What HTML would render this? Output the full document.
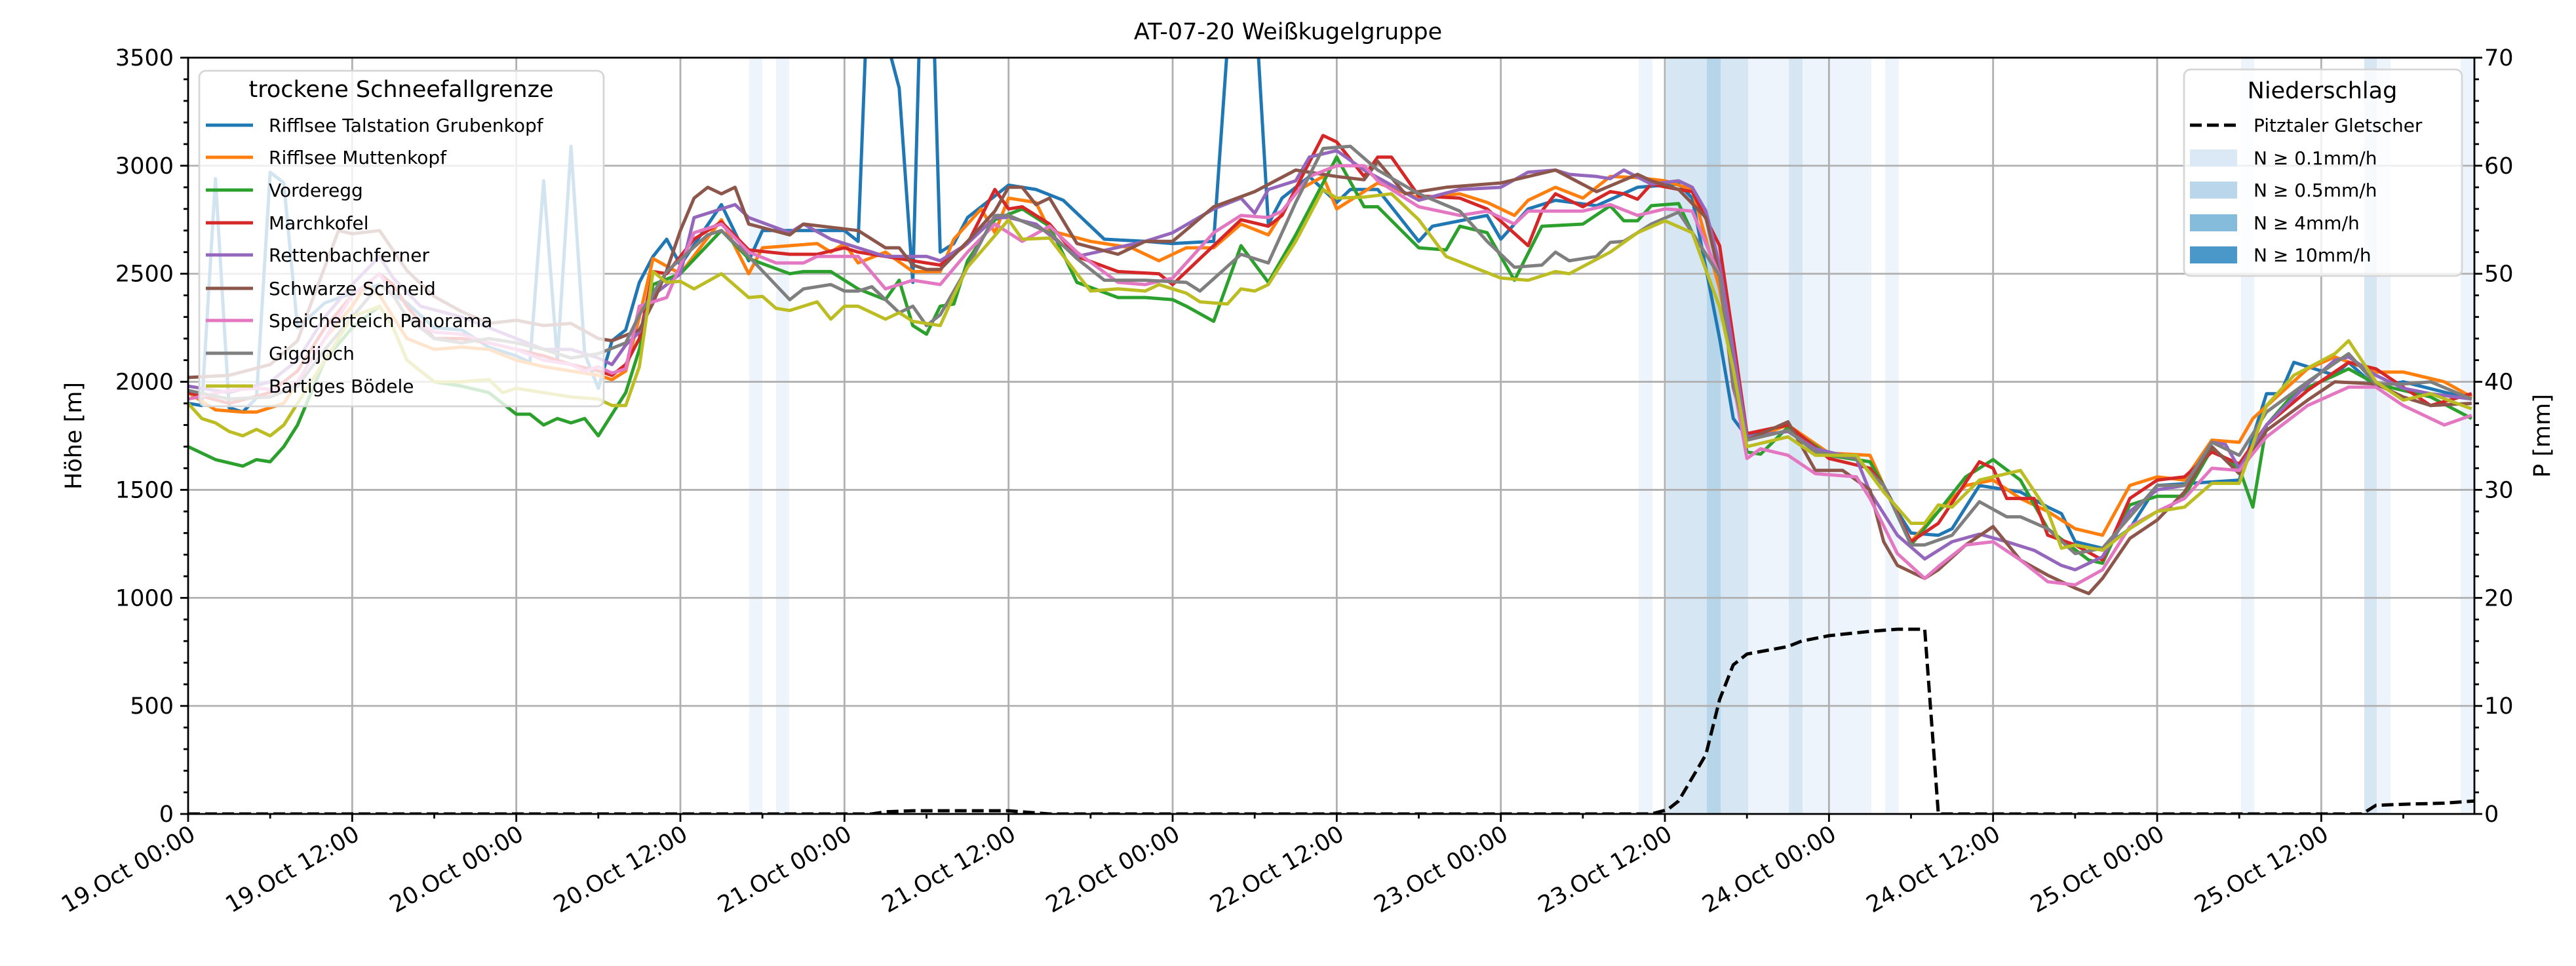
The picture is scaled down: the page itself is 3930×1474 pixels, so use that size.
<!DOCTYPE html>
<html><head><meta charset="utf-8"><style>
html,body{margin:0;padding:0;background:#fff;}
svg{display:block;font-family:"DejaVu Sans","Liberation Sans",sans-serif;}
</style></head><body>
<svg id="s" width="3930" height="1474" viewBox="0 0 3930 1474" xmlns="http://www.w3.org/2000/svg">
<defs><clipPath id="cp"><rect x="287" y="88" width="3488" height="1154"/></clipPath></defs>
<g id="bands"></g>
<g id="grid" stroke="#b0b0b0" stroke-width="2.8"></g>
<g id="lines" clip-path="url(#cp)" fill="none" stroke-width="5" stroke-linejoin="round"></g>
<g id="leg1">
<rect x="304" y="108" width="617" height="512" rx="10" fill="#fff" fill-opacity="0.8" stroke="#d6d6d6" stroke-width="2.8"/>
<text x="612" y="148" font-size="35" text-anchor="middle">trockene Schneefallgrenze</text>
<g font-size="28" stroke-width="5">
<line x1="314" x2="386" y1="191" y2="191" stroke="#1f77b4"/><text x="410" y="201">Rifflsee Talstation Grubenkopf</text>
<line x1="314" x2="386" y1="240" y2="240" stroke="#ff7f0e"/><text x="410" y="250">Rifflsee Muttenkopf</text>
<line x1="314" x2="386" y1="290" y2="290" stroke="#2ca02c"/><text x="410" y="300">Vorderegg</text>
<line x1="314" x2="386" y1="340" y2="340" stroke="#d62728"/><text x="410" y="350">Marchkofel</text>
<line x1="314" x2="386" y1="389" y2="389" stroke="#9467bd"/><text x="410" y="399">Rettenbachferner</text>
<line x1="314" x2="386" y1="440" y2="440" stroke="#8c564b"/><text x="410" y="450">Schwarze Schneid</text>
<line x1="314" x2="386" y1="489" y2="489" stroke="#e377c2"/><text x="410" y="499">Speicherteich Panorama</text>
<line x1="314" x2="386" y1="539" y2="539" stroke="#7f7f7f"/><text x="410" y="549">Giggijoch</text>
<line x1="314" x2="386" y1="589" y2="589" stroke="#bcbd22"/><text x="410" y="599">Bartiges Bödele</text>
</g></g>
<path id="prec" fill="none" stroke="#000" stroke-width="5" stroke-dasharray="18,8" clip-path="url(#cp)"/>
<g id="axes" stroke="#000" stroke-width="2.8"></g>
<g id="labels" font-size="35"></g>
<g id="leg2">
<rect x="3332" y="106" width="424" height="315" rx="10" fill="#fff" fill-opacity="0.8" stroke="#d6d6d6" stroke-width="2.8"/>
<text x="3543" y="150" font-size="35" text-anchor="middle">Niederschlag</text>
<g font-size="28">
<line x1="3341" x2="3413" y1="191" y2="191" stroke="#000" stroke-width="5" stroke-dasharray="18,8"/><text x="3438" y="201">Pitztaler Gletscher</text>
<rect x="3341" y="228" width="72" height="26" fill="#dbe9f6"/><text x="3438" y="251">N ≥ 0.1mm/h</text>
<rect x="3341" y="277" width="72" height="26" fill="#bad6eb"/><text x="3438" y="300">N ≥ 0.5mm/h</text>
<rect x="3341" y="327" width="72" height="26" fill="#85bcdb"/><text x="3438" y="350">N ≥ 4mm/h</text>
<rect x="3341" y="376" width="72" height="26" fill="#4a98c9"/><text x="3438" y="399">N ≥ 10mm/h</text>
</g></g>
<text x="1965" y="60" font-size="35" text-anchor="middle">AT-07-20 Weißkugelgruppe</text>
<text transform="translate(124,665) rotate(-90)" font-size="35" text-anchor="middle">Höhe [m]</text>
<text transform="translate(3890,665) rotate(-90)" font-size="35" text-anchor="middle">P [mm]</text>
</svg>
<script>
const NS="http://www.w3.org/2000/svg";
const X0=287,X1=3775,Y0=1242,Y1=88,PH=(X1-X0)/167.2;
const hx=h=>X0+h*PH, vy=v=>Y0-v*(Y0-Y1)/3500;
function el(t,a,p){const e=document.createElementNS(NS,t);for(const k in a)e.setAttribute(k,a[k]);p.appendChild(e);return e;}
const $=id=>document.getElementById(id);
[[1143,1163,'#eef4fb'],[1184,1204,'#eef4fb'],[2500,2521,'#eef4fb'],[2542,2604,'#d6e6f3'],[2604,2625,'#b6d5e9'],[2625,2667,'#d6e6f3'],[2667,2729,'#eef4fb'],[2729,2750,'#d6e6f3'],[2750,2855,'#eef4fb'],[2876,2897,'#eef4fb'],[3419,3439,'#eef4fb'],[3607,3626,'#d6e6f3'],[3626,3647,'#eef4fb'],[3754,3775,'#eef4fb']]
.forEach(b=>el('rect',{x:b[0],y:Y1,width:b[1]-b[0],height:Y0-Y1,fill:b[2]},$('bands')));
for(let h=12;h<167;h+=12)el('line',{x1:hx(h),x2:hx(h),y1:Y1,y2:Y0},$('grid'));
for(let v=500;v<3500;v+=500)el('line',{x1:X0,x2:X1,y1:vy(v),y2:vy(v)},$('grid'));
const S=[
['#1f77b4',"0:1900,1:1890,2:2940,3:1880,4:1860,5:1925,6:2970,7:2920,8:2250,10:2365,12:2410,14:2450,16:2365,18:2250,20:2240,22:2160,24:2120,25:2090,26:2930,27:2100,28:3090,29:2130,30:1970,31:2190,32:2240,33:2460,34:2580,35:2660,36:2540,39:2820,41:2560,42:2700,46:2700,48:2700,49:2650,50:4300,51:3600,52:3360,53:2460,54:4800,55:2600,56:2640,57:2760,60:2910,62:2890,64:2840,67:2660,70:2650,72:2640,75:2650,76:3550,77:4000,78:3800,79:2730,80:2850,82:2950,84:2830,85:2890,87:2890,90:2650,91:2720,95:2770,96:2660,98:2800,100:2840,103:2815,106:2900,109:2915,110:2850,112:2200,113:1830,114:1745,117:1800,120:1660,122:1645,124:1520,125:1400,126:1300,128:1290,129:1320,131:1520,134:1490,136:1420,137:1390,138:1260,140:1230,142:1320,144:1520,150:1545,152:1945,153:1945,154:2090,157:2030,158:2090,160:1975,162:2000,167:1920"],
['#ff7f0e',"0:1950,2:1870,4:1860,5:1860,6:1880,7:1900,8:2000,10:2200,12:2350,13:2450,14:2400,16:2200,18:2150,20:2160,22:2150,24:2100,26:2070,28:2050,30:2030,31:2010,32:2050,33:2300,34:2570,36:2500,39:2750,41:2500,42:2620,46:2640,47:2600,48:2640,49:2550,51:2600,53:2510,55:2510,56:2660,58:2800,59:2690,60:2850,62:2830,63:2700,66:2650,69:2620,71:2560,73:2620,75:2620,77:2730,79:2680,81:2880,83:2950,84:2800,87:2920,90:2850,93:2870,95:2830,97:2770,98:2840,100:2900,102:2850,104:2950,106:2945,108:2930,110:2890,112:2430,113:2090,114:1730,117:1800,120:1670,123:1660,124:1520,126:1260,128:1400,130:1520,132:1545,134:1460,136:1400,138:1320,140:1290,142:1520,144:1560,146:1545,148:1730,150:1720,151:1830,155:2060,157:2115,160:2045,162:2045,165:2000,167:1930"],
['#2ca02c',"0:1700,2:1640,4:1610,5:1640,6:1630,7:1700,8:1800,10:2100,12:2250,13:2300,14:2350,15:2250,16:2100,18:2000,20:1980,22:1950,24:1850,25:1850,26:1800,27:1830,28:1810,29:1830,30:1750,31:1850,32:1950,33:2150,34:2450,36:2500,39:2700,41:2570,44:2500,45:2510,47:2510,49:2430,51:2380,52:2470,53:2260,54:2220,55:2350,56:2360,57:2560,59:2750,61:2800,63:2720,65:2460,68:2390,70:2390,72:2380,73:2350,75:2280,77:2630,79:2460,81:2680,84:3040,86:2810,87:2810,90:2620,92:2610,93:2720,95:2690,97:2470,99:2720,102:2730,104:2815,105:2745,106:2745,107:2815,109:2825,110:2690,112:2490,114:1675,115:1665,117:1790,120:1660,123:1630,124:1520,126:1245,128:1400,130:1560,132:1640,134:1545,136:1320,139:1175,140:1160,142:1430,144:1470,146:1470,148:1690,150:1600,151:1420,152:1800,154:1945,157:2030,158:2060,160:1990,162:1960,164:1930,167:1830"],
['#d62728',"0:1950,3:1900,6:1950,8:2050,10:2250,12:2400,14:2500,15:2450,16:2350,18:2200,20:2200,22:2180,24:2150,26:2120,28:2080,30:2050,31:2030,32:2080,33:2200,34:2510,35:2500,37:2660,39:2740,41:2610,44:2590,46:2590,48:2620,49:2600,51:2580,53:2560,55:2540,57:2640,59:2890,60:2800,61:2810,63:2730,65:2580,68:2510,71:2500,72:2450,74:2570,77:2750,79:2720,80:2770,83:3140,84:3110,86:2950,87:3040,88:3040,90:2860,93:2850,95:2800,98:2630,99:2790,100:2870,102:2810,104:2880,105:2870,106:2845,107:2915,109:2890,110:2880,112:2630,113:2200,114:1760,117:1800,120:1645,123:1600,124:1520,126:1260,128:1345,131:1630,132:1600,133:1460,135:1460,136:1290,138:1245,140:1175,142:1460,144:1545,146:1560,148:1675,150:1620,152:1800,155:1960,158:2090,160:2060,162:1975,164:1890,167:1945"],
['#9467bd',"0:1980,3:1950,6:2000,8:2100,10:2300,12:2450,14:2580,15:2480,17:2350,20:2300,22:2250,24:2200,26:2150,28:2150,30:2110,31:2080,32:2170,33:2230,34:2400,36:2500,37:2760,40:2820,41:2760,44:2690,45:2730,47:2660,49:2620,51:2580,54:2580,55:2560,57:2640,59:2760,60:2760,62:2730,65:2580,70:2650,72:2690,75:2800,77:2850,78:2780,79:2890,81:2930,82:3040,84:3070,86:2980,90:2840,93:2890,96:2900,98:2970,100:2980,101:2960,103:2950,104:2940,105:2980,107:2915,109:2930,110:2900,111:2790,112:2540,113:2145,114:1745,117:1770,119:1690,122:1645,123:1490,125:1290,127:1180,129:1260,131:1295,133:1260,135:1220,137:1150,138:1130,140:1190,142:1400,144:1500,146:1520,148:1720,149:1710,150:1600,152:1800,155:1990,157:2100,158:2115,160:2030,162:1970,164:1945,167:1920"],
['#8c564b',"0:2020,3:2030,6:2080,8:2190,9:2365,11:2700,12:2685,14:2700,16:2515,18:2395,20:2325,22:2270,24:2285,26:2260,28:2270,30:2200,31:2190,32:2215,33:2240,34:2365,35:2515,36:2700,37:2850,38:2900,39:2870,40:2900,41:2730,44:2680,45:2730,49:2700,51:2620,52:2620,53:2540,54:2520,55:2520,57:2650,59:2790,60:2900,61:2900,62:2820,63:2850,65:2640,68:2590,70:2650,72:2650,75:2810,78:2880,81:2980,84:2950,86:2935,87:3020,89:2870,92:2900,96:2920,100:2980,103:2880,106:2960,107:2930,109:2890,111:2760,112:2490,113:1975,114:1730,117:1815,119:1590,121:1590,123:1500,124:1260,125:1150,127:1090,128:1130,130:1245,132:1330,134:1175,136:1105,138:1045,139:1020,140:1090,142:1275,144:1360,146:1490,148:1700,150:1575,152:1775,155:1915,157:2000,160:1990,162:1930,164:1890,167:1900"],
['#e377c2',"0:1920,3:1960,5:1970,7:1960,8:2000,10:2200,12:2400,14:2500,16:2300,18:2230,20:2220,22:2180,24:2150,26:2100,28:2080,29:2050,30:2070,31:2040,32:2060,33:2350,35:2390,37:2690,39:2730,41:2600,43:2550,45:2550,46:2580,48:2580,49:2580,51:2430,53:2470,55:2450,57:2600,59:2730,61:2650,63:2720,65:2600,68:2460,70:2450,72:2480,75:2690,77:2770,79:2760,80:2790,82:2950,84:3000,86:3000,87:2930,90:2810,93:2770,95:2790,97:2730,98:2790,100:2790,102:2790,104:2820,106:2770,108:2800,110:2790,112:2490,113:2000,114:1645,115:1690,117:1660,119:1575,122:1560,123:1460,125:1205,127:1090,128:1145,130:1245,132:1260,134:1175,136:1075,138:1060,140:1130,142:1330,144:1400,146:1460,148:1600,150:1590,152:1745,155:1890,158:1975,160:1975,162:1890,165:1800,167:1845"],
['#7f7f7f',"0:1960,3:1920,6:1930,8:1980,10:2150,12:2300,14:2450,15:2400,16:2300,18:2200,20:2180,22:2200,24:2180,26:2150,28:2110,30:2130,32:2180,33:2310,35:2510,38:2680,39:2700,41:2580,44:2380,45:2430,47:2450,48:2420,49:2420,50:2440,52:2320,53:2350,54:2260,55:2310,57:2530,59:2770,60:2770,63:2690,65:2570,67:2470,70:2470,73:2460,74:2420,77:2590,79:2550,81:2830,83:3080,85:3090,87:2980,90:2870,93:2790,95:2650,97:2530,99:2540,100:2600,101:2560,103:2580,104:2645,105:2650,107:2730,109:2785,110:2690,112:2490,113:2000,114:1730,117:1775,119:1675,122:1645,124:1520,126:1245,127:1245,129:1290,131:1445,133:1375,134:1375,136:1320,138:1205,140:1230,142:1375,144:1520,146:1520,148:1720,150:1660,152:1860,155:2000,158:2130,160:1990,162:1990,164:2000,167:1920"],
['#bcbd22',"0:1900,1:1830,2:1810,3:1770,4:1750,5:1780,6:1750,7:1800,8:1900,10:2100,12:2300,14:2350,15:2250,16:2100,18:2000,20:2000,22:2010,23:1950,24:1970,26:1950,28:1930,30:1920,31:1890,32:1890,33:2070,34:2510,35:2460,36:2465,37:2430,39:2500,41:2390,42:2395,43:2340,44:2330,46:2370,47:2290,48:2350,49:2350,51:2290,52:2320,53:2280,55:2260,56:2400,57:2530,60:2750,61:2660,63:2665,65:2500,66:2420,68:2430,70:2420,71:2450,73:2410,74:2370,76:2360,77:2430,78:2420,79:2450,81:2650,83:2890,84:2850,86:2855,88:2870,90:2750,92:2580,94:2530,96:2480,98:2470,100:2510,101:2500,104:2600,106:2690,108:2745,110:2690,112:2345,113:2060,114:1700,117:1745,119:1660,122:1660,124:1490,126:1345,127:1345,128:1430,129:1420,131:1545,134:1590,136:1400,137:1230,138:1245,140:1220,142:1320,144:1400,146:1420,148:1530,150:1530,152:1890,154:2030,157:2130,158:2190,160:2000,162:1915,164:1945,167:1875"]];
S.forEach(s=>{const pts=s[1].split(',').map(p=>{const [h,v]=p.split(':').map(Number);return hx(h).toFixed(1)+','+vy(v).toFixed(1);});
el('polyline',{points:pts.join(' '),stroke:s[0]},$('lines'));});
const P="0:0,50:0,51:0.2,53:0.3,60:0.3,62:0.1,63:0,107:0,108.2:0.4,109:1.2,111:5.5,112:10.6,113:13.8,114:14.8,117:15.5,118:16,120:16.5,123:16.9,125:17.1,127:17.1,128:0,159:0,160:0.8,162:0.9,165:1.0,167.2:1.2";
$('prec').setAttribute('d','M'+P.split(',').map(p=>{const [h,v]=p.split(':').map(Number);return hx(h).toFixed(1)+','+vy(v*50).toFixed(1);}).join(' L'));
const A=$('axes'),L=$('labels');
el('rect',{x:X0,y:Y1,width:X1-X0,height:Y0-Y1,fill:'none'},A);
for(let v=0;v<=3500;v+=100){const y=vy(v),maj=v%500==0,len=maj?12:7;
el('line',{x1:X0-len,x2:X0,y1:y,y2:y},A);el('line',{x1:X1,x2:X1+len,y1:y,y2:y},A);
if(maj){el('text',{x:265,y:y+12,'text-anchor':'end'},L).textContent=v;
el('text',{x:3790,y:y+12},L).textContent=v/50;}}
const lab=['19.Oct 00:00','19.Oct 12:00','20.Oct 00:00','20.Oct 12:00','21.Oct 00:00','21.Oct 12:00','22.Oct 00:00','22.Oct 12:00','23.Oct 00:00','23.Oct 12:00','24.Oct 00:00','24.Oct 12:00','25.Oct 00:00','25.Oct 12:00'];
for(let h=0;h<=167;h+=6){const x=hx(h),maj=h%12==0;el('line',{x1:x,x2:x,y1:Y0,y2:Y0+(maj?12:7)},A);
if(maj){el('text',{x:0,y:0,'text-anchor':'end','dominant-baseline':'hanging',transform:`translate(${x+1},${1258}) rotate(-30)`},L).textContent=lab[h/12];}}
</script>
</body></html>
